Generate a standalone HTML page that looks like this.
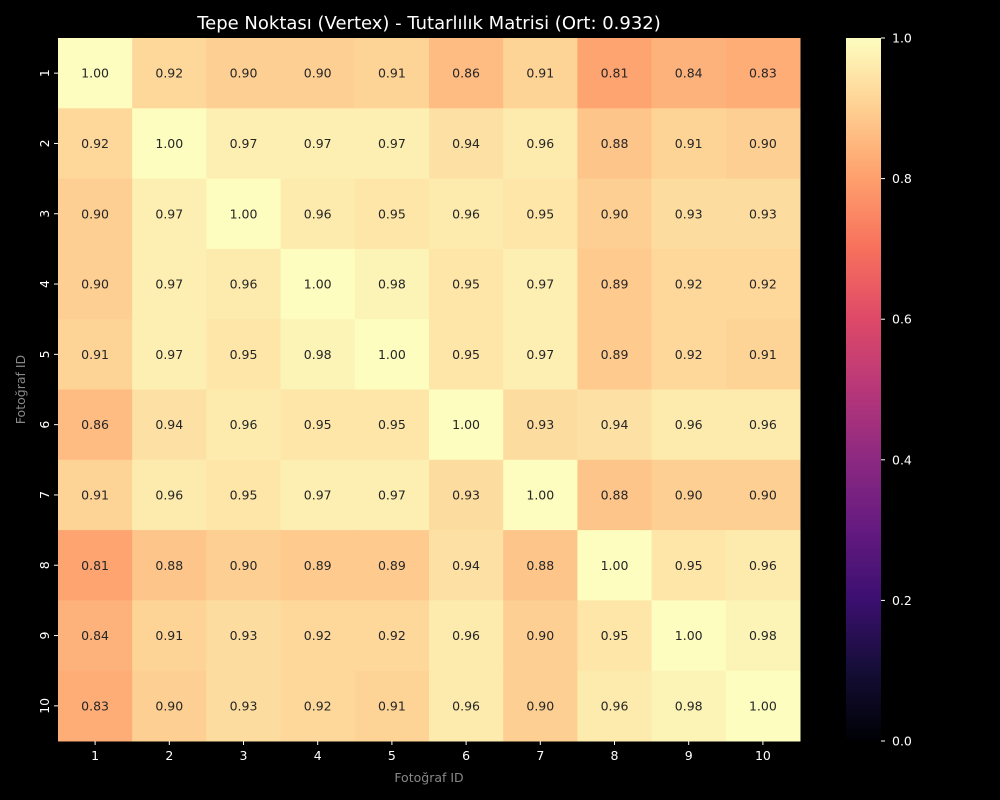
<!DOCTYPE html>
<html><head><meta charset="utf-8"><style>
html,body{margin:0;padding:0;background:#000;}
svg{display:block;font-family:"DejaVu Sans","Liberation Sans",sans-serif;}
</style></head><body>
<svg id="chart" width="1000" height="800"></svg>
<script>
const rowLabels=["1","2","3","4","5","6","7","8","9","10"];
const colLabels=["1","2","3","4","5","6","7","8","9","10"];
const values=[
[1.00,0.92,0.90,0.90,0.91,0.86,0.91,0.81,0.84,0.83],
[0.92,1.00,0.97,0.97,0.97,0.94,0.96,0.88,0.91,0.90],
[0.90,0.97,1.00,0.96,0.95,0.96,0.95,0.90,0.93,0.93],
[0.90,0.97,0.96,1.00,0.98,0.95,0.97,0.89,0.92,0.92],
[0.91,0.97,0.95,0.98,1.00,0.95,0.97,0.89,0.92,0.91],
[0.86,0.94,0.96,0.95,0.95,1.00,0.93,0.94,0.96,0.96],
[0.91,0.96,0.95,0.97,0.97,0.93,1.00,0.88,0.90,0.90],
[0.81,0.88,0.90,0.89,0.89,0.94,0.88,1.00,0.95,0.96],
[0.84,0.91,0.93,0.92,0.92,0.96,0.90,0.95,1.00,0.98],
[0.83,0.90,0.93,0.92,0.91,0.96,0.90,0.96,0.98,1.00]];
const cbTicks=[0.0,0.2,0.4,0.6,0.8,1.0];
const vmin=0,vmax=1;
const stops=[[0,"#000004"],[0.1,"#140e36"],[0.2,"#3b0f70"],[0.3,"#641a80"],[0.4,"#8c2981"],[0.5,"#b73779"],[0.6,"#de4968"],[0.7,"#f7705c"],[0.8,"#fe9f6d"],[0.85,"#feb77e"],[0.9,"#fecf92"],[0.95,"#fde6a8"],[1,"#fcfdbf"]];
function hex(h){return [1,3,5].map(i=>parseInt(h.substr(i,2),16));}
function cmap(v){let t=(v-vmin)/(vmax-vmin);t=Math.max(0,Math.min(1,t));
 for(let i=1;i<stops.length;i++){if(t<=stops[i][0]){const a=stops[i-1],b=stops[i];const f=(t-a[0])/(b[0]-a[0]);const ca=hex(a[1]),cb=hex(b[1]);return "rgb("+ca.map((c,k)=>Math.round(c+(cb[k]-c)*f)).join(",")+")";}}return stops[stops.length-1][1];}
const L=58,R=800,T=38,B=741;
const cw=(R-L)/colLabels.length,ch=(B-T)/rowLabels.length;
const xPos=i=>L+i*cw, yPos=j=>T+j*ch;
const NS="http://www.w3.org/2000/svg";const svg=document.getElementById("chart");
function el(tag,attrs,parent){const e=document.createElementNS(NS,tag);for(const k in attrs)e.setAttribute(k,attrs[k]);(parent||svg).appendChild(e);return e;}
const g=el("g",{});


values.forEach((row,j)=>row.forEach((v,i)=>{
 const r=el("rect",{x:xPos(i),y:yPos(j),width:cw+0.5,height:ch+0.5,fill:cmap(v)},g);
 
 
 const t=el("text",{x:xPos(i)+cw/2,y:yPos(j)+ch/2+4.5,"text-anchor":"middle","font-size":"12.5",fill:"#262626"},g);
 
 
 t.textContent=v.toFixed(2);
}));
colLabels.forEach((c,i)=>{const x=xPos(i)+cw/2;
 const tk=el("line",{x1:x,x2:x,y1:B,y2:B+4,stroke:"#fff","stroke-width":1});
 
 
 const t=el("text",{x:x,y:B+19,"text-anchor":"middle","font-size":"12.5",fill:"#fff"});
 
 
 t.textContent=c;});
rowLabels.forEach((c,j)=>{const y=yPos(j)+ch/2;
 const tk=el("line",{x1:L-4,x2:L,y1:y,y2:y,stroke:"#fff","stroke-width":1});
 
 
 const t=el("text",{x:0,y:0,"text-anchor":"middle","font-size":"12.5",fill:"#fff",transform:"translate("+(L-9)+","+y+") rotate(-90)"});
 
 
 t.textContent=c;});
const xt=el("text",{x:(L+R)/2,y:782,"text-anchor":"middle","font-size":"12.5",fill:"#888"});


xt.textContent="Fotoğraf ID";
const yt=el("text",{x:0,y:0,"text-anchor":"middle","font-size":"12.5",fill:"#888",transform:"translate(25,"+((T+B)/2)+") rotate(-90)"});


yt.textContent="Fotoğraf ID";
const ti=el("text",{x:(L+R)/2,y:29,"text-anchor":"middle","font-size":"18",fill:"#fff"});


ti.textContent="Tepe Noktası (Vertex) - Tutarlılık Matrisi (Ort: 0.932)";
const CL=846,CR=881;
const defs=el("defs",{});
const grad=el("linearGradient",{id:"cb",x1:0,y1:1,x2:0,y2:0},defs);
for(let k=0;k<=40;k++){const v=vmin+(vmax-vmin)*k/40;el("stop",{offset:(k/40),"stop-color":cmap(v)},grad);}
const cb=el("rect",{x:CL,y:T,width:CR-CL,height:B-T,fill:"url(#cb)"});


const cy=v=>B-(v-vmin)/(vmax-vmin)*(B-T);
cbTicks.forEach(v=>{const y=cy(v);
 const tk=el("line",{x1:CR,x2:CR+4,y1:y,y2:y,stroke:"#fff","stroke-width":1});
 
 
 const t=el("text",{x:CR+11,y:y+4.5,"font-size":"12.5",fill:"#fff"});
 
 
 t.textContent=v.toFixed(1);});
</script>
</body></html>
